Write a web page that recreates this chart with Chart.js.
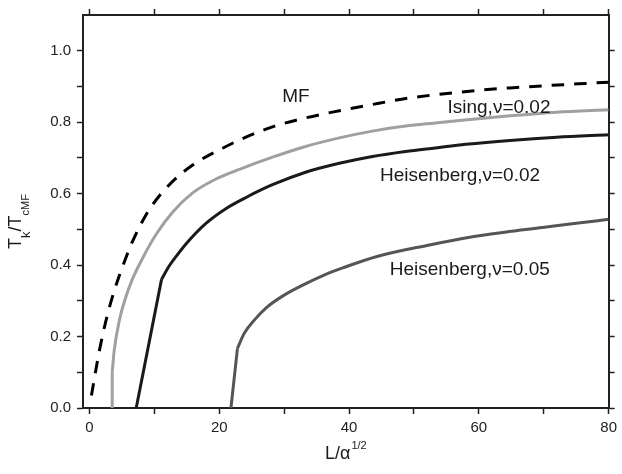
<!DOCTYPE html>
<html>
<head>
<meta charset="utf-8">
<script src="https://cdn.jsdelivr.net/npm/chart.js@4.4.1/dist/chart.umd.min.js"></script>
<style>
  html, body { margin: 0; padding: 0; background: #fff; }
  canvas { display: block; }
</style>
</head>
<body>
<canvas id="tkChart" width="622" height="474"></canvas>
<script>
// curves: x = L/alpha^1/2, y = Tk/TcMF
const mfX  = [0.3, 1.54, 2.56, 3.85, 5.6, 6.67, 9.2, 12.3, 15.9, 20.5, 23.1, 28.2, 33.3, 38.5, 44.6, 49.4, 60.5, 64.8, 80];
const mfY  = [0.035, 0.162, 0.246, 0.33, 0.42, 0.468, 0.555, 0.625, 0.68, 0.727, 0.75, 0.787, 0.812, 0.832, 0.853, 0.868, 0.89, 0.896, 0.912];

// each finite-size curve: a straight rise from T=0, then a smooth branch
const isingRiseX = [3.5, 3.5];
const isingRiseY = [0, 0.1];
const isingX = [3.5, 3.8, 4.6, 5.5, 6.6, 8.2, 10.3, 12.8, 15.9, 19.5, 23.1, 28.2, 33.3, 38.5, 43.6, 48.7, 53.3, 57, 64.8, 72, 80];
const isingY = [0.1, 0.16, 0.245, 0.305, 0.36, 0.42, 0.487, 0.548, 0.602, 0.641, 0.668, 0.702, 0.732, 0.756, 0.775, 0.789, 0.798, 0.805, 0.818, 0.828, 0.835];

const heis02RiseX = [7.2, 11.1];
const heis02RiseY = [0, 0.36];
const heis02X = [11.1, 12.3, 13.5, 14.9, 17.9, 21, 24.4, 28.2, 33.3, 38.5, 43.6, 48.7, 53.3, 58, 64.8, 72, 80];
const heis02Y = [0.36, 0.398, 0.428, 0.46, 0.516, 0.558, 0.592, 0.625, 0.66, 0.685, 0.704, 0.718, 0.728, 0.738, 0.749, 0.758, 0.765];

const heis05RiseX = [21.8, 22.8];
const heis05RiseY = [0, 0.167];
const heis05X = [22.8, 23.85, 25.4, 27.4, 30, 33.1, 36.15, 39, 44.3, 52, 58.6, 64, 69.8, 75, 80];
const heis05Y = [0.167, 0.209, 0.246, 0.283, 0.316, 0.346, 0.372, 0.392, 0.424, 0.455, 0.478, 0.492, 0.505, 0.517, 0.528];

const xTicks = [0, 10, 20, 30, 40, 50, 60, 70, 80];
const xTickLabels = ['0', '', '20', '', '40', '', '60', '', '80'];
const yTicks = [0, 0.1, 0.2, 0.3, 0.4, 0.5, 0.6, 0.7, 0.8, 0.9, 1.0];
const yTickLabels = ['0.0', '', '0.2', '', '0.4', '', '0.6', '', '0.8', '', '1.0'];

// curve labels: [text, x, y] in data units
const curveNotes = [
  ['MF', 31.8, 0.871],
  ['Ising,\u03bd=0.02', 63.1, 0.84],
  ['Heisenberg,\u03bd=0.02', 57.1, 0.651],
  ['Heisenberg,\u03bd=0.05', 58.6, 0.388]
];

const FONT = '"Liberation Sans", Arial, sans-serif';
const AXIS = '#222';

function pts(xs, ys) {
  return xs.map((x, i) => ({ x: x, y: ys[i] }));
}

function setTicks(values) {
  return scale => { scale.ticks = values.map(v => ({ value: v })); };
}

function curve(label, xs, ys, color, smooth, dash) {
  return {
    label: label,
    data: pts(xs, ys),
    borderColor: color,
    borderWidth: 3,
    borderDash: dash || [],
    cubicInterpolationMode: smooth ? 'monotone' : 'default',
    tension: 0
  };
}

const tickGrid = {
  drawOnChartArea: false,
  drawTicks: true,
  tickLength: 6,
  tickColor: AXIS,
  tickWidth: 1.5
};
const border = { color: AXIS, width: 2 };

const notesPlugin = {
  id: 'notes',
  afterDatasetsDraw(chart) {
    const ctx = chart.ctx;
    const sx = chart.scales.x, sy = chart.scales.y;
    ctx.save();
    ctx.fillStyle = '#1a1a1a';
    ctx.font = '19px ' + FONT;
    ctx.textAlign = 'center';
    ctx.textBaseline = 'middle';
    curveNotes.forEach(n => {
      ctx.fillText(n[0], sx.getPixelForValue(n[1]), sy.getPixelForValue(n[2]));
    });

    // x axis title  L/α^1/2
    ctx.textAlign = 'left';
    ctx.textBaseline = 'alphabetic';
    ctx.font = '18px ' + FONT;
    let x = 325, base = 459;
    ctx.fillText('L/\u03b1', x, base);
    x += ctx.measureText('L/\u03b1').width + 1;
    ctx.font = '11px ' + FONT;
    ctx.fillText('1/2', x, base - 10);

    // y axis title  Tk/TcMF, rotated
    ctx.translate(21, 249);
    ctx.rotate(-Math.PI / 2);
    let p = 0;
    const parts = [['T', 18, 0], ['k', 13, 9], ['/T', 18, 0], ['cMF', 11, 8]];
    parts.forEach(part => {
      ctx.font = part[1] + 'px ' + FONT;
      ctx.fillText(part[0], p, part[2]);
      p += ctx.measureText(part[0]).width;
    });
    ctx.restore();
  }
};

new Chart('tkChart', {
  type: 'line',
  data: {
    datasets: [
      curve('MF', mfX, mfY, '#000', true, [12.5, 10]),
      curve('Ising rise', isingRiseX, isingRiseY, '#a0a0a0', false),
      curve('Ising', isingX, isingY, '#a0a0a0', true),
      curve('Heisenberg 0.02 rise', heis02RiseX, heis02RiseY, '#1a1a1a', false),
      curve('Heisenberg 0.02', heis02X, heis02Y, '#1a1a1a', true),
      curve('Heisenberg 0.05 rise', heis05RiseX, heis05RiseY, '#555555', false),
      curve('Heisenberg 0.05', heis05X, heis05Y, '#555555', true)
    ]
  },
  options: {
    responsive: false,
    animation: false,
    events: [],
    layout: { padding: 0 },
    elements: { point: { radius: 0 } },
    plugins: { legend: { display: false }, tooltip: { enabled: false } },
    scales: {
      x: {
        type: 'linear', position: 'bottom', min: -1, max: 80,
        afterBuildTicks: setTicks(xTicks),
        afterFit: s => { s.height = 66; },
        grid: tickGrid, border: border,
        ticks: {
          color: AXIS, padding: 5, maxRotation: 0, autoSkip: false,
          font: { family: FONT, size: 15 },
          callback: (v, i) => xTickLabels[i]
        }
      },
      y: {
        type: 'linear', position: 'left', min: 0, max: 1.1,
        afterBuildTicks: setTicks(yTicks),
        afterFit: s => { s.width = 83; },
        grid: tickGrid, border: border,
        ticks: {
          color: AXIS, padding: 6, autoSkip: false,
          font: { family: FONT, size: 15 },
          callback: (v, i) => yTickLabels[i]
        }
      },
      x2: {
        type: 'linear', position: 'top', min: -1, max: 80,
        afterBuildTicks: setTicks(xTicks),
        afterFit: s => { s.height = 15; },
        grid: tickGrid, border: border,
        ticks: { display: false }
      },
      y2: {
        type: 'linear', position: 'right', min: 0, max: 1.1,
        afterBuildTicks: setTicks(yTicks),
        afterFit: s => { s.width = 12; },
        grid: tickGrid, border: border,
        ticks: { display: false }
      }
    }
  },
  plugins: [notesPlugin]
});
</script>
</body>
</html>
